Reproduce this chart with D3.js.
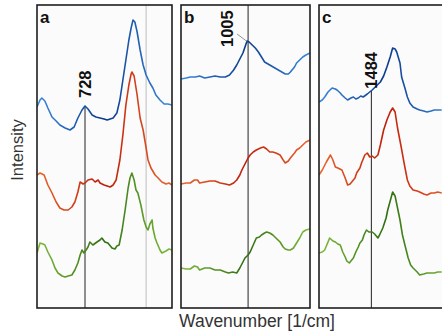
<!DOCTYPE html>
<html>
<head>
<meta charset="utf-8">
<script src="https://cdn.jsdelivr.net/npm/d3@7"></script>
<style>
  html, body { margin: 0; padding: 0; background: #fff; }
  svg { display: block; font-family: "Liberation Sans", Arial, sans-serif; }
</style>
</head>
<body>
<svg id="chart" width="442" height="333"></svg>
<script>
// ---- data (wavenumber in 1/cm, intensity in a.u., stacked offsets included) ----
const panelNames = ['a', 'b', 'c'];
const panelDomains = [[600, 960], [940, 1065], [1420, 1585]];
const markers = [728, 1005, 1484];

const aWave = {
  blue: [600,608,613,621,629,640,651,661,675,688,699,709,720,728,736,747,757,768,779,787,795,803,813,821,829,837,845,851,856,861,867,875,883,891,901,909,917,928,939,949,960],
  red: [600,608,619,629,640,651,661,672,683,693,701,709,715,723,728,736,747,755,763,768,779,795,803,811,816,821,829,837,845,851,853,859,867,875,883,891,896,904,915,923,933,944,952,960],
  green: [600,608,616,621,629,640,648,656,667,675,683,693,701,709,715,720,725,731,736,741,749,760,768,773,781,789,800,808,813,819,827,835,843,848,853,859,864,869,877,885,891,896,901,907,909,915,920,928,933,944,952,960]
};
const aInt = {
  blue: [201,208,210,207,200,191,187,183,180,178,181,190,198,202,199,193,191,190,189,188,189,190,195,208,228,248,268,280,288,286,276,258,243,233,225,220,213,208,204,204,203],
  red: [133,135,133,123,115,106,100,98,98,101,106,116,126,124,125,128,129,126,128,125,123,121,123,128,138,148,173,203,223,234,236,232,213,190,178,160,148,140,133,130,126,124,125,123],
  green: [55,65,64,63,56,48,40,35,32,31,32,33,38,45,53,58,55,58,61,66,63,66,68,70,66,65,60,59,62,63,78,98,120,130,135,128,118,115,103,88,81,78,84,88,80,70,65,58,55,57,59,58]
};

const bWaveBlue = [940,945,949,954,958,963,968,973,978,983,987,991,994,997,1000,1002,1004,1006,1009,1012,1015,1018,1021,1026,1031,1036,1041,1044,1046,1050,1052,1055,1058,1061,1065];
const bIntBlue = [229,230,231,231,232,230,231,232,231,231,233,238,243,249,255,261,267,266,263,260,256,251,246,243,240,237,234,234,236,241,245,248,251,253,255];
const bWaveRed = [940,945,949,953,956,958,963,968,973,978,983,987,991,994,997,999,1001,1003,1005,1007,1010,1013,1017,1020,1023,1026,1029,1032,1036,1039,1041,1044,1046,1050,1052,1055,1058,1061,1065];
const bIntRed = [124,125,125,128,128,125,126,127,127,125,124,123,125,128,133,138,142,146,150,153,156,158,160,161,159,156,156,155,153,148,145,147,150,155,158,160,163,166,168];
const bWaveGreen = [940,945,949,953,956,958,963,968,973,978,983,986,990,994,997,1000,1002,1005,1007,1010,1013,1016,1018,1021,1023,1026,1029,1032,1036,1039,1041,1044,1046,1049,1052,1055,1058,1061,1065];
const bIntGreen = [40,39,39,42,41,38,40,40,38,38,36,35,36,35,40,46,50,53,56,63,70,71,73,75,76,75,73,70,66,61,59,58,58,60,65,70,76,78,79];

const cWaveBlue = [1420,1424,1427,1431,1436,1440,1442,1446,1448,1452,1455,1459,1462,1465,1468,1471,1474,1479,1485,1490,1495,1499,1503,1507,1510,1513,1515,1519,1521,1525,1528,1531,1535,1540,1543,1548,1552,1557,1561,1565,1570];
const cIntBlue = [206,208,211,216,220,219,218,215,213,210,208,210,211,209,210,212,211,214,218,222,226,232,241,251,260,259,256,245,231,220,211,205,201,199,198,197,196,197,198,198,198];
const cWaveRed = [1420,1424,1429,1434,1437,1440,1443,1448,1452,1455,1458,1460,1464,1466,1470,1472,1476,1479,1482,1485,1488,1492,1495,1499,1503,1507,1510,1513,1516,1520,1524,1528,1531,1535,1540,1543,1548,1552,1557,1561,1565,1570];
const cIntRed = [133,138,146,153,148,141,140,138,130,123,124,126,130,135,140,145,153,155,151,152,150,153,163,178,188,196,200,196,180,163,145,128,122,118,117,116,114,113,115,115,116,115];
const cWaveGreen = [1420,1424,1427,1431,1433,1437,1440,1443,1446,1449,1452,1454,1457,1459,1462,1465,1468,1470,1473,1475,1478,1481,1485,1488,1492,1494,1498,1502,1504,1508,1510,1513,1516,1519,1522,1525,1529,1532,1535,1540,1543,1548,1552,1557,1561,1565,1570];
const cIntGreen = [55,56,58,66,70,67,66,64,63,56,51,47,45,47,50,56,61,65,68,73,78,76,76,74,70,73,80,90,98,110,116,112,100,88,73,63,50,43,40,36,33,34,35,35,35,36,36];

const zip = (w, v) => w.map((x, i) => ({ x, y: v[i] }));
const spectra = [
  { blue: zip(aWave.blue, aInt.blue), red: zip(aWave.red, aInt.red), green: zip(aWave.green, aInt.green) },
  { blue: zip(bWaveBlue, bIntBlue), red: zip(bWaveRed, bIntRed), green: zip(bWaveGreen, bIntGreen) },
  { blue: zip(cWaveBlue, cIntBlue), red: zip(cWaveRed, cIntRed), green: zip(cWaveGreen, cIntGreen) }
];

// colour: [edge, middle]
const colors = {
  blue: ['#3b8ade', '#0c3a8c'],
  red: ['#e8672e', '#bf1e0a'],
  green: ['#80bc3c', '#2f6e10']
};

// ---- layout ----
const boxes = [
  { x: 37, w: 135 },
  { x: 181, w: 129 },
  { x: 319, w: 135 }
];
const plotTop = 5, plotBottom = 308;

const svg = d3.select('#chart');
const y = d3.scaleLinear().domain([0, 303]).range([plotBottom, plotTop]);

svg.append('clipPath').attr('id', 'page')
  .append('rect').attr('x', 0).attr('y', 0).attr('width', 442).attr('height', 333);

boxes.forEach((b, i) => {
  const x = d3.scaleLinear().domain(panelDomains[i]).range([b.x, b.x + b.w]);
  const g = svg.append('g').attr('clip-path', 'url(#page)');

  g.append('rect')
    .attr('x', b.x).attr('y', plotTop)
    .attr('width', b.w).attr('height', plotBottom - plotTop)
    .attr('fill', '#fbfbfb');

  const clipId = 'clip' + i;
  svg.append('clipPath').attr('id', clipId)
    .append('rect').attr('x', b.x).attr('y', plotTop).attr('width', b.w).attr('height', plotBottom - plotTop);

  const inner = g.append('g').attr('clip-path', `url(#${clipId})`);

  if (i === 0) {
    // faint grey guide
    inner.append('line')
      .attr('x1', x(891)).attr('x2', x(891))
      .attr('y1', plotTop).attr('y2', plotBottom)
      .attr('stroke', '#c8c8c8').attr('stroke-width', 1.2);
  }

  // marker line
  const mx = x(markers[i]);
  const blueAt = d3.scaleLinear()
    .domain(spectra[i].blue.map(d => d.x))
    .range(spectra[i].blue.map(d => d.y));
  const markTop = i === 1 ? plotTop : y(blueAt(markers[i]));
  inner.append('line')
    .attr('x1', mx).attr('x2', mx)
    .attr('y1', markTop).attr('y2', plotBottom)
    .attr('stroke', '#222').attr('stroke-width', 1);

  // spectra
  const line = d3.line().x(d => x(d.x)).y(d => y(d.y));
  ['blue', 'red', 'green'].forEach(k => {
    const gid = `grad-${i}-${k}`;
    const grad = svg.append('linearGradient')
      .attr('id', gid)
      .attr('gradientUnits', 'userSpaceOnUse')
      .attr('x1', b.x).attr('x2', b.x + b.w)
      .attr('y1', 0).attr('y2', 0);
    grad.append('stop').attr('offset', '0%').attr('stop-color', colors[k][0]);
    grad.append('stop').attr('offset', '50%').attr('stop-color', colors[k][1]);
    grad.append('stop').attr('offset', '100%').attr('stop-color', colors[k][0]);
    inner.append('path')
      .datum(spectra[i][k])
      .attr('d', line)
      .attr('fill', 'none')
      .attr('stroke', `url(#${gid})`)
      .attr('stroke-width', 1.6)
      .attr('stroke-linejoin', 'round');
  });

  // frame
  g.append('rect')
    .attr('x', b.x).attr('y', plotTop)
    .attr('width', b.w).attr('height', plotBottom - plotTop)
    .attr('fill', 'none')
    .attr('stroke', '#1e1e1e').attr('stroke-width', 1.6);

  // panel letter
  g.append('text')
    .attr('x', b.x + 3).attr('y', plotTop + 18)
    .attr('font-size', 17).attr('font-weight', 'bold')
    .attr('fill', '#111')
    .text(panelNames[i]);

  // marker label
  let lx, ly;
  if (i === 1) {
    const peakY = y(blueAt(markers[i]));
    lx = mx - 15; ly = plotTop + 42;
    g.append('line')
      .attr('x1', lx + 4).attr('y1', ly - 13)
      .attr('x2', mx - 1).attr('y2', peakY)
      .attr('stroke', '#777').attr('stroke-width', 0.8);
  } else {
    lx = mx + 5.5; ly = markTop - (i === 0 ? 8 : 2);
  }
  g.append('text')
    .attr('transform', `translate(${lx},${ly}) rotate(-90)`)
    .attr('font-size', 16.5).attr('font-weight', 'bold')
    .attr('fill', '#111')
    .text(markers[i]);
});

// axis titles
svg.append('text')
  .attr('transform', 'translate(23,150) rotate(-90)')
  .attr('text-anchor', 'middle')
  .attr('font-size', 16.5)
  .attr('fill', '#333')
  .text('Intensity');

svg.append('text')
  .attr('x', 257).attr('y', 327)
  .attr('text-anchor', 'middle')
  .attr('font-size', 17.5)
  .attr('fill', '#333')
  .text('Wavenumber [1/cm]');
</script>
</body>
</html>
